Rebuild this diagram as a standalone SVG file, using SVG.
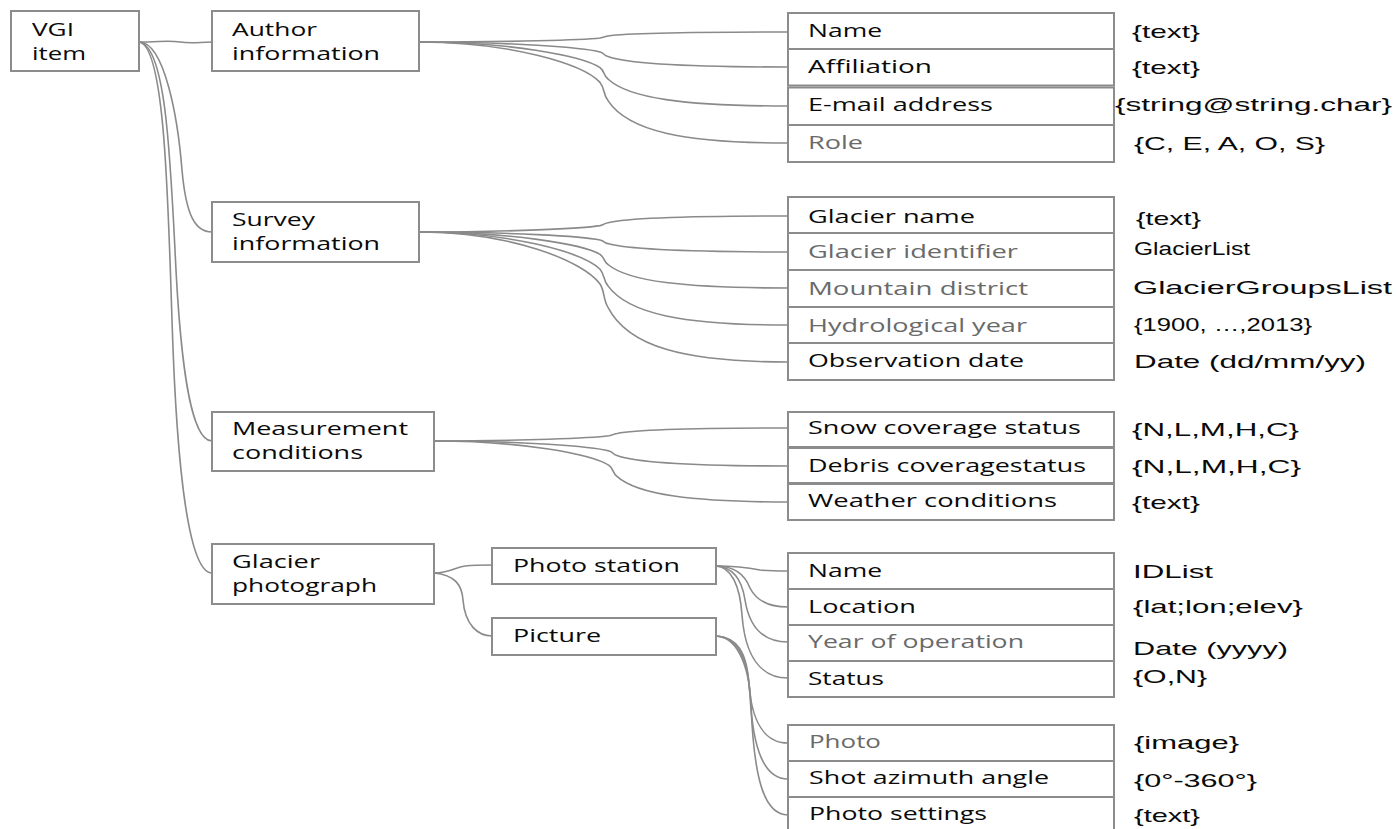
<svg xmlns="http://www.w3.org/2000/svg" width="1397" height="829" viewBox="0 0 1397 829">
<style>
.box{fill:#fff;stroke:#8c8c8c;stroke-width:2}
.lbl{font-family:"Open Sans","DejaVu Sans",sans-serif;font-size:18px;fill:#0a0a0a}
.gry{fill:#6a6a6a}
.val{font-family:"Liberation Sans",Arial,sans-serif;font-size:19px;fill:#0a0a0a}
.con path{fill:none;stroke:#8a8a8a;stroke-width:1.6}
</style>
<rect width="1397" height="829" fill="#fff"/>
<g class="con" id="connectors">
<path d="M139,42 C160,42 168,40 180,42 C192,44 200,42 212,42"/>
<path d="M139,42 C165,42 178,120 182,170 C186,215 195,232 212,232"/>
<path d="M139,42 C165,45 170,150 175,250 C180,360 190,441 212,441"/>
<path d="M139,42 C165,45 168,200 172,320 C177,480 190,573 212,573"/>
<path d="M419,42 C510,42 583,40 600,38 C605,37 603,37 608,36 C628,33 683,32 788,32"/>
<path d="M419,42 C510,42 583,47.5 600,52 C605,53.5 603,55 608,56.5 C628,64 683,67 788,67"/>
<path d="M419,42 C510,42 583,56 600,67.6 C605,71.4 603,75.2 608,79 C628,98 683,106 788,106"/>
<path d="M419,42 C510,42 583,64 600,82.4 C605,88.4 603,94.6 608,100.6 C628,131 683,143 788,143"/>
<path d="M419,232 C510,232 583,228.5 600,225.6 C605,224.6 603,223.7 608,222.7 C628,218 683,216 788,216"/>
<path d="M419,232 C510,232 583,236.4 600,240 C605,241.2 603,242.4 608,243.6 C628,249.6 683,252 788,252"/>
<path d="M419,232 C510,232 583,244.3 600,254.4 C605,257.8 603,261.1 608,264.5 C628,281.3 683,288 788,288"/>
<path d="M419,232 C510,232 583,252.5 600,269.2 C605,274.8 603,280.3 608,285.9 C628,313.8 683,325 788,325"/>
<path d="M419,232 C510,232 583,260.6 600,284 C605,291.8 603,299.6 608,307.4 C628,346.4 683,362 788,362"/>
<path d="M434,441 C523,441 592,438.1 609,435.8 C614,435 612,434.3 617,433.5 C637,429.6 692,428 788,428"/>
<path d="M434,441 C523,441 592,446.5 609,451 C614,452.5 612,454 617,455.5 C637,463 692,466 788,466"/>
<path d="M434,441 C523,441 592,454.4 609,465.4 C614,469.1 612,472.7 617,476.4 C637,494.7 692,502 788,502"/>
<path d="M434,573 C450,573 455,567 465,566 C475,565 480,565 492,565"/>
<path d="M434,573 C455,575 462,585 463,600 C465,625 478,636 492,636"/>
<path d="M716,566 C740,566 750,568 760,570 C770,571 775,571 788,571"/>
<path d="M716,566 C735,566 745,575 750,588 C756,600 768,607 788,607"/>
<path d="M716,566 C733,567 742,580 745,600 C749,625 762,642 788,642"/>
<path d="M716,566 C731,567 740,585 742,615 C745,655 760,678 788,678"/>
<path d="M716,636 C737,637 747,652 749,685 C752,722 765,743 788,743"/>
<path d="M716,636 C736,637 748,656 750,695 C753,752 765,779 788,779"/>
<path d="M716,636 C735,637 749,660 751,705 C754,782 765,815 788,815"/>
</g>
<g id="vgi-item"><rect class="box" x="11" y="11" width="128" height="60"/><text class="lbl" x="32" y="36" textLength="42" lengthAdjust="spacingAndGlyphs">VGI</text><text class="lbl" x="32" y="60" textLength="54" lengthAdjust="spacingAndGlyphs">item</text></g>
<g id="author-information"><rect class="box" x="212" y="11" width="207" height="60"/><text class="lbl" x="232" y="36" textLength="85" lengthAdjust="spacingAndGlyphs">Author</text><text class="lbl" x="232" y="60" textLength="148" lengthAdjust="spacingAndGlyphs">information</text></g>
<g id="survey-information"><rect class="box" x="212" y="202" width="207" height="60"/><text class="lbl" x="232" y="226" textLength="83" lengthAdjust="spacingAndGlyphs">Survey</text><text class="lbl" x="232" y="250" textLength="148" lengthAdjust="spacingAndGlyphs">information</text></g>
<g id="measurement-conditions"><rect class="box" x="212" y="412" width="222" height="59"/><text class="lbl" x="232" y="435" textLength="176" lengthAdjust="spacingAndGlyphs">Measurement</text><text class="lbl" x="232" y="459" textLength="131" lengthAdjust="spacingAndGlyphs">conditions</text></g>
<g id="glacier-photograph"><rect class="box" x="212" y="544" width="222" height="60"/><text class="lbl" x="232" y="568" textLength="88" lengthAdjust="spacingAndGlyphs">Glacier</text><text class="lbl" x="232" y="592" textLength="145" lengthAdjust="spacingAndGlyphs">photograph</text></g>
<g id="photo-station"><rect class="box" x="492" y="548" width="224" height="36"/><text class="lbl" x="513" y="572" textLength="167" lengthAdjust="spacingAndGlyphs">Photo station</text></g>
<g id="picture"><rect class="box" x="492" y="618" width="224" height="37"/><text class="lbl" x="513" y="642" textLength="88" lengthAdjust="spacingAndGlyphs">Picture</text></g>

<g id="author-name"><rect class="box" x="788" y="13" width="326" height="36"/><text class="lbl" x="808" y="37" textLength="74" lengthAdjust="spacingAndGlyphs">Name</text><text class="val" x="1132" y="38" textLength="68" lengthAdjust="spacingAndGlyphs">{text}</text></g>
<g id="author-affiliation"><rect class="box" x="788" y="49" width="326" height="36.5"/><text class="lbl" x="808" y="73" textLength="124" lengthAdjust="spacingAndGlyphs">Affiliation</text><text class="val" x="1132" y="74" textLength="68" lengthAdjust="spacingAndGlyphs">{text}</text></g>
<g id="author-email"><rect class="box" x="788" y="87.5" width="326" height="37.5"/><text class="lbl" x="808" y="111" textLength="185" lengthAdjust="spacingAndGlyphs">E-mail address</text><text class="val" x="1115" y="111" textLength="277" lengthAdjust="spacingAndGlyphs">{string@string.char}</text></g>
<g id="author-role"><rect class="box" x="788" y="125" width="326" height="37"/><text class="lbl gry" x="808" y="149" textLength="55" lengthAdjust="spacingAndGlyphs">Role</text><text class="val" x="1134" y="150" textLength="191" lengthAdjust="spacingAndGlyphs">{C, E, A, O, S}</text></g>

<g id="survey-glacier-name"><rect class="box" x="788" y="197" width="326" height="36"/><text class="lbl" x="808" y="223" textLength="167" lengthAdjust="spacingAndGlyphs">Glacier name</text><text class="val" x="1136" y="225" textLength="65" lengthAdjust="spacingAndGlyphs">{text}</text></g>
<g id="survey-glacier-identifier"><rect class="box" x="788" y="233" width="326" height="37"/><text class="lbl gry" x="808" y="258" textLength="210" lengthAdjust="spacingAndGlyphs">Glacier identifier</text><text class="val" x="1134" y="255" textLength="116" lengthAdjust="spacingAndGlyphs">GlacierList</text></g>
<g id="survey-mountain-district"><rect class="box" x="788" y="270" width="326" height="37"/><text class="lbl gry" x="808" y="295" textLength="220" lengthAdjust="spacingAndGlyphs">Mountain district</text><text class="val" x="1133" y="294" textLength="259" lengthAdjust="spacingAndGlyphs">GlacierGroupsList</text></g>
<g id="survey-hydrological-year"><rect class="box" x="788" y="307" width="326" height="36"/><text class="lbl gry" x="808" y="332" textLength="219" lengthAdjust="spacingAndGlyphs">Hydrological year</text><text class="val" x="1134" y="331" textLength="178" lengthAdjust="spacingAndGlyphs">{1900, …,2013}</text></g>
<g id="survey-observation-date"><rect class="box" x="788" y="343" width="326" height="37"/><text class="lbl" x="808" y="367" textLength="216" lengthAdjust="spacingAndGlyphs">Observation date</text><text class="val" x="1134" y="368" textLength="232" lengthAdjust="spacingAndGlyphs">Date (dd/mm/yy)</text></g>

<g id="meas-snow"><rect class="box" x="788" y="412" width="326" height="35"/><text class="lbl" x="808" y="434" textLength="273" lengthAdjust="spacingAndGlyphs">Snow coverage status</text><text class="val" x="1132" y="436" textLength="167" lengthAdjust="spacingAndGlyphs">{N,L,M,H,C}</text></g>
<g id="meas-debris"><rect class="box" x="788" y="448" width="326" height="35"/><text class="lbl" x="808" y="472" textLength="278" lengthAdjust="spacingAndGlyphs">Debris coveragestatus</text><text class="val" x="1132" y="473" textLength="169" lengthAdjust="spacingAndGlyphs">{N,L,M,H,C}</text></g>
<g id="meas-weather"><rect class="box" x="788" y="484" width="326" height="36"/><text class="lbl" x="808" y="507" textLength="249" lengthAdjust="spacingAndGlyphs">Weather conditions</text><text class="val" x="1132" y="509" textLength="68" lengthAdjust="spacingAndGlyphs">{text}</text></g>

<g id="station-name"><rect class="box" x="788" y="553" width="326" height="36"/><text class="lbl" x="808" y="577" textLength="74" lengthAdjust="spacingAndGlyphs">Name</text><text class="val" x="1133" y="578" textLength="80" lengthAdjust="spacingAndGlyphs">IDList</text></g>
<g id="station-location"><rect class="box" x="788" y="589" width="326" height="36"/><text class="lbl" x="808" y="613" textLength="108" lengthAdjust="spacingAndGlyphs">Location</text><text class="val" x="1133" y="613" textLength="170" lengthAdjust="spacingAndGlyphs">{lat;lon;elev}</text></g>
<g id="station-year"><rect class="box" x="788" y="625" width="326" height="36"/><text class="lbl gry" x="808" y="648" textLength="216" lengthAdjust="spacingAndGlyphs">Year of operation</text><text class="val" x="1133" y="655" textLength="155" lengthAdjust="spacingAndGlyphs">Date (yyyy)</text></g>
<g id="station-status"><rect class="box" x="788" y="661" width="326" height="36"/><text class="lbl" x="808" y="685" textLength="76" lengthAdjust="spacingAndGlyphs">Status</text><text class="val" x="1133" y="683" textLength="74" lengthAdjust="spacingAndGlyphs">{O,N}</text></g>

<g id="picture-photo"><rect class="box" x="788" y="725" width="326" height="36"/><text class="lbl gry" x="809" y="748" textLength="72" lengthAdjust="spacingAndGlyphs">Photo</text><text class="val" x="1134" y="749" textLength="105" lengthAdjust="spacingAndGlyphs">{image}</text></g>
<g id="picture-azimuth"><rect class="box" x="788" y="761" width="326" height="36"/><text class="lbl" x="809" y="784" textLength="240" lengthAdjust="spacingAndGlyphs">Shot azimuth angle</text><text class="val" x="1134" y="787" textLength="123" lengthAdjust="spacingAndGlyphs">{0°-360°}</text></g>
<g id="picture-settings"><rect class="box" x="788" y="797" width="326" height="38"/><text class="lbl" x="809" y="820" textLength="178" lengthAdjust="spacingAndGlyphs">Photo settings</text><text class="val" x="1134" y="822" textLength="66" lengthAdjust="spacingAndGlyphs">{text}</text></g>
</svg>
